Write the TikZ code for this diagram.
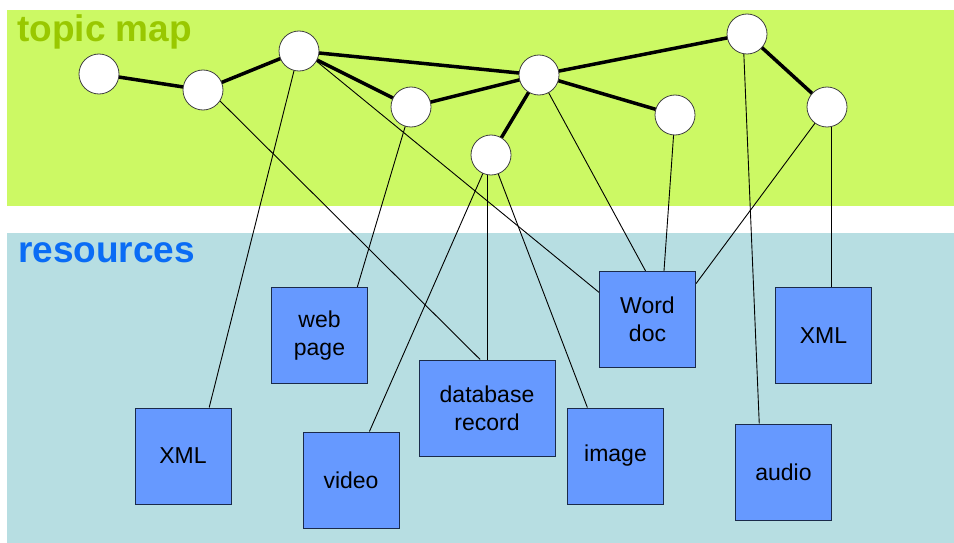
\documentclass[tikz,border=0pt]{standalone}
\usepackage{fontspec}
\setmainfont{Liberation Sans}
\usetikzlibrary{calc}
\definecolor{bandgreen}{HTML}{CCF964}
\definecolor{bandblue}{HTML}{B7DEE2}
\definecolor{boxblue}{HTML}{6699FF}
\definecolor{boxline}{HTML}{1A2A4A}
\definecolor{titlegreen}{HTML}{99C800}
\definecolor{titleblue}{HTML}{0A6CF5}
\pgfdeclarelayer{bands}
\pgfdeclarelayer{edges}
\pgfsetlayers{bands,edges,main}
\begin{document}
\begin{tikzpicture}[x=1pt,y=-1pt,
  topic/.style={circle, draw=black!75, fill=white, minimum size=40pt, inner sep=0pt, line width=0.8pt},
  res/.style={draw=boxline, fill=boxblue, minimum width=96pt, minimum height=96pt, inner sep=0pt, align=center, font=\fontsize{23}{28}\selectfont, line width=1pt},
  strong/.style={line width=3.5pt, black},
  weak/.style={line width=0.9pt, black},
  title/.style={anchor=base west, inner sep=0pt, font=\fontsize{37}{37}\selectfont\bfseries}]
\useasboundingbox (0,0) rectangle (954,543);
\begin{pgfonlayer}{bands}
  \fill[bandgreen] (7,10) rectangle (954,206);
  \fill[bandblue] (7,233) rectangle (954,543);
\end{pgfonlayer}
\node[title, text=titlegreen] (tm) at (17,42) {topic map};
\node[title, text=titleblue] (rs) at (18,262) {resources};
% topics
\node[topic] (c1) at (99,74) {};
\node[topic] (c2) at (203,90) {};
\node[topic] (c3) at (299,51) {};
\node[topic] (c4) at (411,107) {};
\node[topic] (c5) at (539,75) {};
\node[topic] (c6) at (491,155) {};
\node[topic] (c7) at (675,115) {};
\node[topic] (c8) at (747,34) {};
\node[topic] (c9) at (827,107) {};
% resources
\node[res] (xmlA) at (183,456) {XML};
\node[res] (web) at (319.5,335.5) {web\\page};
\node[res] (video) at (351,480) {video};
\node[res, minimum width=136pt] (db) at (487,408) {database\\record};
\node[res] (word) at (647.5,319.5) {Word\\doc};
\node[res] (image) at (615.5,456) {image};
\node[res] (audio) at (783.5,472) {audio};
\node[res] (xmlB) at (823.5,335.5) {XML};
\begin{pgfonlayer}{edges}
  \foreach \a/\b in {c1/c2,c2/c3,c3/c4,c3/c5,c4/c5,c5/c6,c5/c7,c5/c8,c8/c9}
    \draw[strong] (\a.center) -- (\b.center);
  \draw[weak] (c3.center) -- ($(xmlA.north west)!0.77!(xmlA.north east)$);
  \draw[weak] ($(c2.center)+(6,0)$) -- ($(db.north west)!0.45!(db.north east)$);
  \draw[weak] ($(c3.center)+(5,0)$) -- ($(word.north west)!0.22!(word.south west)$);
  \draw[weak] (c4.center) -- ($(web.north west)!0.89!(web.north east)$);
  \draw[weak] (c6.center) -- ($(video.north west)!0.69!(video.north east)$);
  \draw[weak] (db.north) -- (db.north |- c6);
  \draw[weak] (c6.center) -- ($(image.north west)!0.21!(image.north east)$);
  \draw[weak] (c5.center) -- ($(word.north west)!0.48!(word.north east)$);
  \draw[weak] (c7.center) -- ($(word.north west)!0.67!(word.north east)$);
  \draw[weak] (c9.center) -- ($(word.north east)!0.13!(word.south east)$);
  \draw[weak] ($(c8.center)+(-4,0)$) -- ($(audio.north west)!0.25!(audio.north east)$);
  \coordinate (xb) at ($(xmlB.north west)!0.58!(xmlB.north east)$);
  \draw[weak] (xb) -- (xb |- c9);
\end{pgfonlayer}
\end{tikzpicture}
\end{document}
